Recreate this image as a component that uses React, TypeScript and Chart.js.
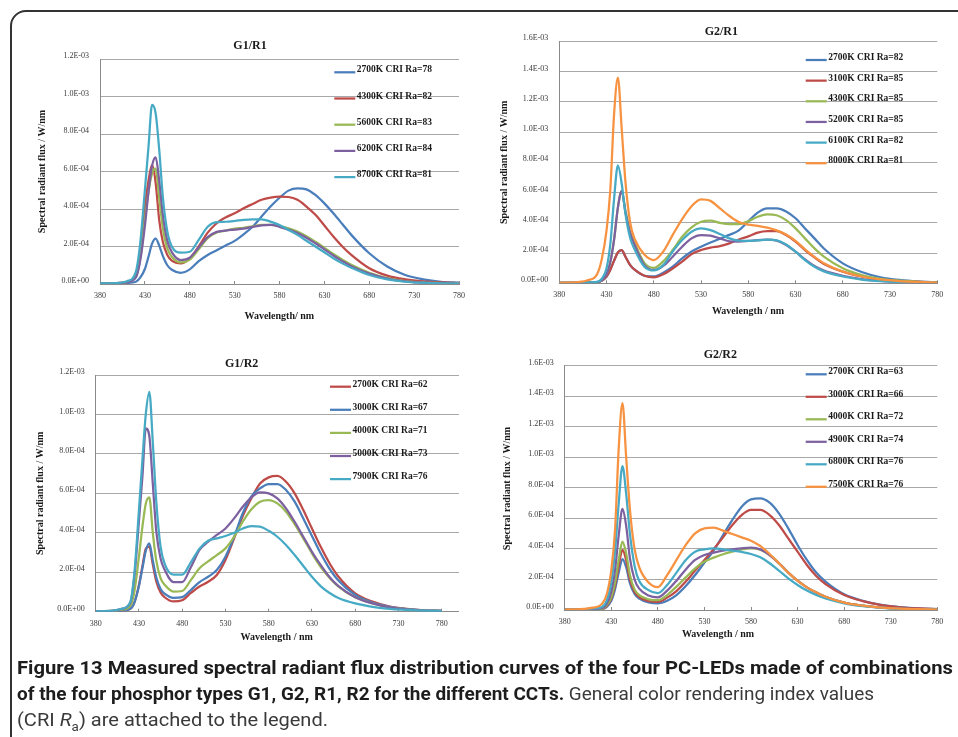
import React, { useEffect, useLayoutEffect, useRef } from 'react';
import { Chart, registerables } from 'chart.js';

Chart.register(...registerables);

// ---------------- data ----------------
const WAVELENGTH_NM = [380, 400, 410, 420, 425, 430, 434, 438, 442, 446, 450, 455, 460, 470, 480, 490, 500, 510, 520, 530, 540, 550, 560, 570, 580, 590, 600, 610, 620, 630, 640, 650, 660, 680, 700, 720, 740, 760, 780];
const X_TICKS = [380, 430, 480, 530, 580, 630, 680, 730, 780];
const UNIT = 1e-4; // series values below are in units of 1E-04 W/nm

// G1/R1
const g1r1_2700K = [0.02, 0.04, 0.06, 0.12, 0.35, 0.8, 1.45, 2.15, 2.42, 2.05, 1.5, 1.0, 0.76, 0.6, 0.78, 1.22, 1.55, 1.8, 2.05, 2.3, 2.65, 3.05, 3.6, 4.13, 4.6, 4.98, 5.1, 5.05, 4.75, 4.3, 3.77, 3.2, 2.62, 1.64, 0.93, 0.48, 0.25, 0.12, 0.07];
const g1r1_4300K = [0.02, 0.05, 0.12, 0.5, 1.8, 4.1, 5.5, 6.35, 5.4, 3.4, 2.25, 1.55, 1.25, 1.1, 1.37, 2.0, 2.74, 3.24, 3.55, 3.77, 4.04, 4.27, 4.49, 4.61, 4.66, 4.64, 4.49, 4.13, 3.69, 3.12, 2.53, 2.0, 1.55, 0.84, 0.45, 0.25, 0.14, 0.09, 0.05];
const g1r1_5600K = [0.02, 0.04, 0.1, 0.4, 1.4, 3.4, 4.9, 5.9, 6.15, 4.6, 3.0, 1.9, 1.45, 1.15, 1.3, 1.85, 2.45, 2.75, 2.85, 2.95, 3.0, 3.08, 3.15, 3.15, 3.1, 2.97, 2.8, 2.55, 2.25, 1.93, 1.6, 1.3, 1.02, 0.6, 0.32, 0.16, 0.08, 0.05, 0.03];
const g1r1_6200K = [0.02, 0.04, 0.1, 0.35, 1.3, 3.1, 4.9, 6.3, 6.75, 5.5, 3.7, 2.3, 1.7, 1.28, 1.4, 1.95, 2.5, 2.78, 2.85, 2.9, 2.95, 3.05, 3.13, 3.15, 3.05, 2.9, 2.72, 2.47, 2.17, 1.85, 1.52, 1.22, 0.95, 0.55, 0.29, 0.14, 0.07, 0.04, 0.02];
const g1r1_8700K = [0.03, 0.06, 0.15, 0.66, 2.26, 5.0, 7.3, 9.55, 9.1, 7.15, 4.65, 2.8, 2.0, 1.67, 1.72, 2.35, 3.05, 3.3, 3.32, 3.36, 3.42, 3.45, 3.45, 3.33, 3.15, 2.88, 2.62, 2.31, 2.0, 1.69, 1.37, 1.1, 0.87, 0.48, 0.25, 0.12, 0.07, 0.04, 0.02];

// G2/R1
const g2r1_2700K = [0.02, 0.03, 0.04, 0.07, 0.18, 0.45, 0.9, 1.5, 2.05, 2.2, 1.76, 1.2, 0.88, 0.5, 0.45, 0.7, 1.1, 1.65, 2.1, 2.42, 2.7, 2.95, 3.2, 3.5, 4.1, 4.67, 4.95, 4.95, 4.75, 4.3, 3.63, 2.97, 2.3, 1.32, 0.75, 0.4, 0.22, 0.12, 0.07];
const g2r1_3100K = [0.02, 0.03, 0.04, 0.07, 0.18, 0.45, 0.9, 1.5, 2.05, 2.2, 1.76, 1.2, 0.88, 0.5, 0.4, 0.6, 0.98, 1.43, 1.93, 2.2, 2.36, 2.46, 2.64, 2.9, 3.1, 3.35, 3.45, 3.45, 3.19, 2.75, 2.2, 1.71, 1.28, 0.77, 0.45, 0.25, 0.15, 0.09, 0.05];
const g2r1_4300K = [0.02, 0.03, 0.05, 0.08, 0.2, 0.6, 1.4, 2.9, 5.0, 6.1, 4.8, 3.4, 2.6, 1.35, 1.02, 1.45, 2.2, 3.08, 3.7, 4.07, 4.14, 4.0, 3.92, 3.92, 4.1, 4.4, 4.56, 4.5, 4.18, 3.63, 2.97, 2.31, 1.76, 0.99, 0.55, 0.3, 0.17, 0.1, 0.06];
const g2r1_5200K = [0.02, 0.03, 0.05, 0.08, 0.2, 0.6, 1.4, 2.9, 5.0, 6.1, 4.7, 3.3, 2.5, 1.2, 0.88, 1.15, 1.76, 2.42, 2.97, 3.19, 3.15, 2.97, 2.78, 2.75, 2.8, 2.86, 2.88, 2.82, 2.53, 2.09, 1.58, 1.14, 0.84, 0.5, 0.28, 0.16, 0.09, 0.05, 0.03];
const g2r1_6100K = [0.02, 0.03, 0.06, 0.1, 0.3, 1.0, 2.6, 5.6, 7.8, 6.6, 4.6, 3.0, 2.2, 1.1, 0.85, 1.2, 2.1, 2.86, 3.41, 3.63, 3.52, 3.26, 2.97, 2.82, 2.8, 2.84, 2.88, 2.84, 2.57, 2.09, 1.54, 1.1, 0.79, 0.45, 0.25, 0.14, 0.08, 0.05, 0.03];
const g2r1_8000K = [0.03, 0.08, 0.2, 0.6, 1.6, 3.5, 6.2, 11.2, 13.6, 10.25, 6.7, 4.0, 2.9, 1.9, 1.54, 2.1, 3.2, 4.25, 5.1, 5.55, 5.45, 4.95, 4.45, 4.05, 3.88, 3.8, 3.68, 3.5, 3.22, 2.8, 2.25, 1.75, 1.33, 0.78, 0.45, 0.26, 0.15, 0.09, 0.05];

// G1/R2
const g1r2_2700K = [0.02, 0.03, 0.06, 0.15, 0.5, 1.35, 2.3, 3.2, 3.3, 2.4, 1.55, 0.98, 0.72, 0.52, 0.58, 0.95, 1.28, 1.52, 1.86, 2.62, 3.72, 4.85, 5.75, 6.5, 6.81, 6.88, 6.59, 6.0, 5.15, 4.22, 3.3, 2.48, 1.81, 0.93, 0.51, 0.26, 0.14, 0.07, 0.04];
const g1r2_3000K = [0.02, 0.03, 0.06, 0.15, 0.5, 1.3, 2.2, 3.1, 3.46, 2.6, 1.75, 1.15, 0.9, 0.7, 0.74, 1.1, 1.5, 1.77, 2.11, 2.79, 3.8, 4.99, 5.85, 6.25, 6.47, 6.47, 6.17, 5.58, 4.73, 3.84, 2.96, 2.2, 1.61, 0.85, 0.46, 0.25, 0.13, 0.07, 0.04];
const g1r2_4000K = [0.02, 0.04, 0.1, 0.3, 1.1, 2.8, 4.3, 5.5, 5.8, 4.0, 2.6, 1.7, 1.35, 1.02, 1.05, 1.6, 2.2, 2.55, 2.87, 3.21, 3.8, 4.56, 5.19, 5.58, 5.66, 5.49, 5.07, 4.44, 3.72, 2.96, 2.28, 1.74, 1.3, 0.73, 0.42, 0.22, 0.12, 0.06, 0.03];
const g1r2_5000K = [0.02, 0.05, 0.14, 0.45, 1.9, 4.6, 6.85, 9.3, 8.9, 6.5, 4.1, 2.7, 2.1, 1.5, 1.5, 2.25, 3.13, 3.55, 3.89, 4.22, 4.73, 5.32, 5.8, 6.05, 6.0, 5.75, 5.24, 4.56, 3.8, 3.04, 2.37, 1.77, 1.32, 0.73, 0.42, 0.22, 0.12, 0.06, 0.03];
const g1r2_7900K = [0.02, 0.05, 0.15, 0.5, 2.1, 5.15, 7.7, 10.05, 11.15, 8.6, 5.6, 3.3, 2.4, 1.88, 1.88, 2.5, 3.2, 3.6, 3.72, 3.84, 4.0, 4.22, 4.34, 4.31, 4.1, 3.8, 3.38, 2.87, 2.32, 1.77, 1.3, 0.96, 0.71, 0.42, 0.25, 0.14, 0.09, 0.05, 0.03];

// G2/R2
const g2r2_2700K = [0.02, 0.03, 0.05, 0.06, 0.2, 0.6, 1.35, 2.45, 3.34, 2.8, 1.75, 1.05, 0.75, 0.5, 0.44, 0.61, 0.98, 1.57, 2.29, 3.1, 3.9, 4.91, 5.9, 6.77, 7.25, 7.31, 7.03, 6.33, 5.35, 4.26, 3.28, 2.45, 1.86, 1.03, 0.6, 0.33, 0.19, 0.1, 0.06];
const g2r2_3000K = [0.02, 0.03, 0.05, 0.07, 0.25, 0.75, 1.6, 2.9, 3.93, 3.25, 2.0, 1.2, 0.85, 0.58, 0.53, 0.81, 1.24, 1.86, 2.58, 3.28, 4.0, 4.76, 5.57, 6.22, 6.55, 6.55, 6.22, 5.57, 4.69, 3.82, 2.95, 2.23, 1.7, 0.98, 0.58, 0.32, 0.18, 0.1, 0.06];
const g2r2_4000K = [0.02, 0.03, 0.05, 0.08, 0.3, 0.85, 1.8, 3.3, 4.48, 3.7, 2.3, 1.35, 0.98, 0.7, 0.64, 0.98, 1.53, 2.14, 2.73, 3.17, 3.43, 3.65, 3.82, 3.97, 4.04, 3.95, 3.6, 3.06, 2.45, 1.92, 1.48, 1.14, 0.87, 0.48, 0.28, 0.16, 0.09, 0.05, 0.03];
const g2r2_4900K = [0.02, 0.04, 0.07, 0.12, 0.4, 1.2, 2.6, 4.9, 6.62, 5.5, 3.4, 2.0, 1.4, 0.95, 0.83, 1.27, 1.92, 2.66, 3.28, 3.6, 3.76, 3.89, 3.97, 4.04, 4.08, 3.97, 3.6, 3.06, 2.45, 1.92, 1.48, 1.14, 0.87, 0.48, 0.28, 0.16, 0.09, 0.05, 0.03];
const g2r2_6800K = [0.02, 0.05, 0.1, 0.2, 0.6, 1.8, 3.8, 7.0, 9.43, 7.6, 5.0, 2.9, 1.9, 1.3, 1.1, 1.64, 2.45, 3.28, 3.82, 3.97, 4.04, 3.97, 3.89, 3.8, 3.67, 3.45, 3.06, 2.58, 2.07, 1.64, 1.27, 0.98, 0.76, 0.44, 0.25, 0.14, 0.08, 0.05, 0.03];
const g2r2_7500K = [0.03, 0.07, 0.15, 0.4, 1.0, 2.6, 5.2, 10.6, 13.55, 10.0, 6.6, 4.0, 2.8, 1.8, 1.5, 2.29, 3.28, 4.26, 5.02, 5.35, 5.39, 5.2, 4.98, 4.76, 4.54, 4.19, 3.67, 3.06, 2.45, 1.92, 1.48, 1.16, 0.87, 0.48, 0.28, 0.16, 0.09, 0.05, 0.03];

// ---------------- styles / layout ----------------
const SERIF = '"Liberation Serif", "DejaVu Serif", "Times New Roman", serif';
const SANS = 'Roboto, "Noto Sans", "Liberation Sans", sans-serif';
const C = {
  blue: '#4a7ebb',
  red: '#be4b48',
  green: '#98b954',
  purple: '#7d60a0',
  cyan: '#46aac5',
  orange: '#f69240',
};
const PAGE_W = 958;
const PAGE_H = 737;
const Y_AXIS_W = 40;
const X_AXIS_H = 20;
const Y_TITLE = 'Spectral radiant flux / W/nm';

type Series = { label: string; color: string; values: number[] };
type PanelSpec = {
  title: string;
  area: { left: number; top: number; right: number; bottom: number };
  xMax: number;
  yMax: number;
  titleAt: [number, number];
  xTitle: string;
  xTitleAt: [number, number];
  yTitleAt: [number, number];
  legend: { x: number; y: number; dy: number };
  series: Series[];
};

const PANELS: PanelSpec[] = [
  {
    title: 'G1/R1',
    area: { left: 100, top: 59, right: 459, bottom: 284 },
    xMax: 780,
    yMax: 12,
    titleAt: [250, 46],
    xTitle: 'Wavelength/ nm',
    xTitleAt: [279.3, 316.7],
    yTitleAt: [42.7, 171.5],
    legend: { x: 334.3, y: 72.3, dy: 26.2 },
    series: [
      { label: '2700K CRI Ra=78', color: C.blue, values: g1r1_2700K },
      { label: '4300K CRI Ra=82', color: C.red, values: g1r1_4300K },
      { label: '5600K CRI Ra=83', color: C.green, values: g1r1_5600K },
      { label: '6200K CRI Ra=84', color: C.purple, values: g1r1_6200K },
      { label: '8700K CRI Ra=81', color: C.cyan, values: g1r1_8700K },
    ],
  },
  {
    title: 'G2/R1',
    area: { left: 559.3, top: 41.3, right: 937.3, bottom: 283.3 },
    xMax: 780,
    yMax: 16,
    titleAt: [721.3, 31.7],
    xTitle: 'Wavelength / nm',
    xTitleAt: [748, 311.7],
    yTitleAt: [504.7, 162.3],
    legend: { x: 805.7, y: 60, dy: 20.65 },
    series: [
      { label: '2700K CRI Ra=82', color: C.blue, values: g2r1_2700K },
      { label: '3100K CRI Ra=85', color: C.red, values: g2r1_3100K },
      { label: '4300K CRI Ra=85', color: C.green, values: g2r1_4300K },
      { label: '5200K CRI Ra=85', color: C.purple, values: g2r1_5200K },
      { label: '6100K CRI Ra=82', color: C.cyan, values: g2r1_6100K },
      { label: '8000K CRI Ra=81', color: C.orange, values: g2r1_8000K },
    ],
  },
  {
    title: 'G1/R2',
    area: { left: 95.7, top: 375, right: 459, bottom: 611.7 },
    xMax: 800,
    yMax: 12,
    titleAt: [241.7, 364],
    xTitle: 'Wavelength / nm',
    xTitleAt: [276.7, 637.7],
    yTitleAt: [40.7, 493.3],
    legend: { x: 330, y: 386.7, dy: 23.1 },
    series: [
      { label: '2700K CRI Ra=62', color: C.red, values: g1r2_2700K },
      { label: '3000K CRI Ra=67', color: C.blue, values: g1r2_3000K },
      { label: '4000K CRI Ra=71', color: C.green, values: g1r2_4000K },
      { label: '5000K CRI Ra=73', color: C.purple, values: g1r2_5000K },
      { label: '7900K CRI Ra=76', color: C.cyan, values: g1r2_7900K },
    ],
  },
  {
    title: 'G2/R2',
    area: { left: 564.7, top: 365.7, right: 937.3, bottom: 610 },
    xMax: 780,
    yMax: 16,
    titleAt: [720.3, 355],
    xTitle: 'Wavelength / nm',
    xTitleAt: [718, 634.7],
    yTitleAt: [507.3, 488.5],
    legend: { x: 805.7, y: 374.3, dy: 22.5 },
    series: [
      { label: '2700K CRI Ra=63', color: C.blue, values: g2r2_2700K },
      { label: '3000K CRI Ra=66', color: C.red, values: g2r2_3000K },
      { label: '4000K CRI Ra=72', color: C.green, values: g2r2_4000K },
      { label: '4900K CRI Ra=74', color: C.purple, values: g2r2_4900K },
      { label: '6800K CRI Ra=76', color: C.cyan, values: g2r2_6800K },
      { label: '7500K CRI Ra=76', color: C.orange, values: g2r2_7500K },
    ],
  },
];

function sci(v: number): string {
  if (Math.abs(v) < 1e-12) return '0.0E+00';
  let e = Math.floor(Math.log10(Math.abs(v)) + 1e-9);
  let m = v / Math.pow(10, e);
  if (Math.abs(m) >= 9.95) {
    m /= 10;
    e += 1;
  }
  return m.toFixed(1) + 'E' + (e < 0 ? '-' : '+') + String(Math.abs(e)).padStart(2, '0');
}

function decorPlugin(spec: PanelSpec) {
  return {
    id: 'decor_' + spec.title.replace('/', '_'),
    afterDraw(chart: any) {
      const ctx = chart.ctx as CanvasRenderingContext2D;
      ctx.save();
      ctx.fillStyle = '#1a1a1a';
      ctx.textAlign = 'center';
      ctx.textBaseline = 'middle';
      ctx.font = `bold 12px ${SERIF}`;
      ctx.fillText(spec.title, spec.titleAt[0], spec.titleAt[1]);
      ctx.font = `bold 10px ${SERIF}`;
      ctx.fillText(spec.xTitle, spec.xTitleAt[0], spec.xTitleAt[1]);
      ctx.save();
      ctx.translate(spec.yTitleAt[0], spec.yTitleAt[1]);
      ctx.rotate(-Math.PI / 2);
      ctx.fillText(Y_TITLE, 0, 0);
      ctx.restore();

      // legend
      const leg = spec.legend;
      chart.data.datasets.forEach((ds: any, i: number) => {
        const y = leg.y + i * leg.dy;
        ctx.strokeStyle = ds.borderColor;
        ctx.lineWidth = 2.25;
        ctx.lineCap = 'butt';
        ctx.beginPath();
        ctx.moveTo(leg.x, y);
        ctx.lineTo(leg.x + 21, y);
        ctx.stroke();
        ctx.fillStyle = '#1a1a1a';
        ctx.font = `bold 9.5px ${SERIF}`;
        ctx.textAlign = 'left';
        ctx.textBaseline = 'alphabetic';
        ctx.fillText(ds.label, leg.x + 22.5, y);
      });
      ctx.restore();
    },
  };
}

function buildConfig(spec: PanelSpec): any {
  const n = spec.series.length;
  return {
    type: 'line',
    data: {
      datasets: spec.series.map((s, i) => ({
        label: s.label,
        data: WAVELENGTH_NM.map((x, k) => ({ x, y: s.values[k] * UNIT })),
        borderColor: s.color,
        backgroundColor: s.color,
        borderWidth: 2.25,
        pointRadius: 0,
        fill: false,
        tension: 0.4,
        cubicInterpolationMode: 'monotone',
        order: n - i,
      })),
    },
    options: {
      responsive: false,
      animation: false,
      events: [],
      layout: {
        padding: {
          left: spec.area.left - Y_AXIS_W,
          top: spec.area.top,
          right: PAGE_W - spec.area.right,
          bottom: PAGE_H - spec.area.bottom - X_AXIS_H,
        },
      },
      plugins: {
        legend: { display: false },
        title: { display: false },
        tooltip: { enabled: false },
      },
      scales: {
        x: {
          type: 'linear',
          min: 380,
          max: spec.xMax,
          afterBuildTicks: (axis: any) => {
            axis.ticks = X_TICKS.map((v) => ({ value: v }));
          },
          afterFit: (scale: any) => {
            scale.height = X_AXIS_H;
          },
          grid: {
            display: true,
            drawOnChartArea: false,
            drawTicks: true,
            tickLength: -3,
            color: '#8a8a8a',
            lineWidth: 1,
          },
          border: { display: true, color: '#8a8a8a', width: 1 },
          ticks: {
            autoSkip: false,
            maxRotation: 0,
            padding: 10.2,
            color: '#3a3a3a',
            font: { family: SERIF, size: 8 },
          },
        },
        y: {
          type: 'linear',
          min: 0,
          max: spec.yMax * UNIT,
          afterFit: (scale: any) => {
            scale.width = Y_AXIS_W;
          },
          grid: { color: '#a8a8a8', lineWidth: 1, drawTicks: false },
          border: { display: true, color: '#8a8a8a', width: 1 },
          ticks: {
            stepSize: 2 * UNIT,
            padding: 11,
            labelOffset: -3,
            color: '#3a3a3a',
            font: { family: SERIF, size: 8 },
            callback: (value: any) => sci(Number(value)),
          },
        },
      },
    },
    plugins: [decorPlugin(spec)],
  };
}

function Panel({ spec }: { spec: PanelSpec }) {
  const ref = useRef<HTMLCanvasElement>(null);
  useEffect(() => {
    if (!ref.current) return;
    const chart = new Chart(ref.current, buildConfig(spec));
    return () => chart.destroy();
  }, [spec]);
  return (
    <canvas
      ref={ref}
      width={PAGE_W}
      height={PAGE_H}
      style={{ position: 'absolute', left: 0, top: 0, width: PAGE_W, height: PAGE_H }}
    />
  );
}

function FitLine({ target, top, children }: { target: number; top: number; children: React.ReactNode }) {
  const ref = useRef<HTMLDivElement>(null);
  useLayoutEffect(() => {
    const fit = () => {
      const el = ref.current;
      if (!el) return;
      el.style.transform = 'none';
      const w = el.getBoundingClientRect().width;
      if (w > 0) el.style.transform = `scaleX(${target / w})`;
    };
    fit();
    if ((document as any).fonts && (document as any).fonts.ready) {
      (document as any).fonts.ready.then(fit);
    }
  }, [target]);
  return (
    <div
      ref={ref}
      style={{
        position: 'absolute',
        left: 17,
        top,
        whiteSpace: 'nowrap',
        transformOrigin: '0 0',
        fontFamily: SANS,
        fontSize: 18,
        lineHeight: '26px',
        color: '#3a3a3a',
      }}
    >
      {children}
    </div>
  );
}

function Caption() {
  const bold: React.CSSProperties = { fontWeight: 700, color: '#1d1d1d' };
  return (
    <>
      <FitLine target={936} top={655.2}>
        <span style={bold}>
          Figure 13 Measured spectral radiant flux distribution curves of the four PC-LEDs made of combinations
        </span>
      </FitLine>
      <FitLine target={857} top={681}>
        <span style={bold}>of the four phosphor types G1, G2, R1, R2 for the different CCTs.</span> General color
        rendering index values
      </FitLine>
      <FitLine target={311} top={706.5}>
        (CRI <i>R</i>
        <sub style={{ fontSize: 12, lineHeight: 0 }}>a</sub>) are attached to the legend.
      </FitLine>
    </>
  );
}

export default function App() {
  return (
    <div
      style={{
        position: 'fixed',
        left: 0,
        top: 0,
        width: PAGE_W,
        height: PAGE_H,
        overflow: 'hidden',
        background: '#ffffff',
      }}
    >
      <div
        style={{
          position: 'absolute',
          left: 10,
          top: 10,
          width: 1000,
          height: 800,
          border: '2px solid #333333',
          borderRadius: 16,
          boxSizing: 'border-box',
        }}
      />
      {PANELS.map((p) => (
        <Panel key={p.title} spec={p} />
      ))}
      <Caption />
    </div>
  );
}
